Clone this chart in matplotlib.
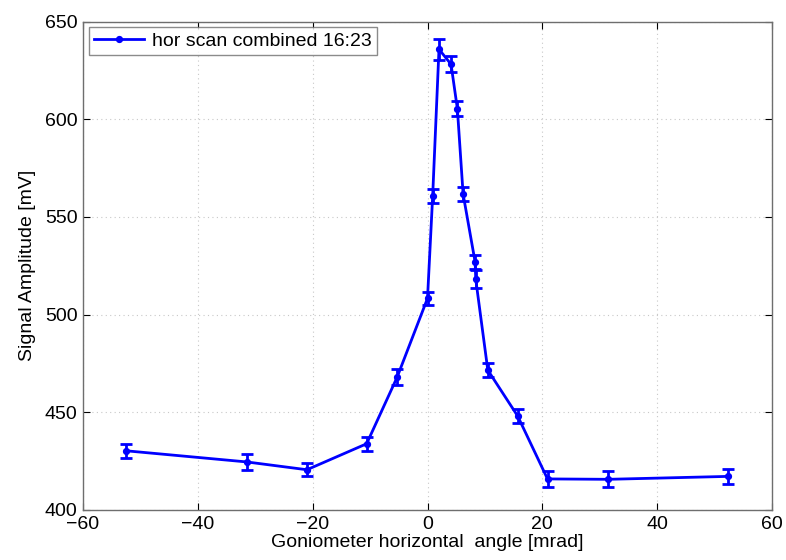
import matplotlib
matplotlib.use("Agg")
import matplotlib.pyplot as plt
from matplotlib.lines import Line2D

plt.rcParams["font.family"] = ["Liberation Sans", "DejaVu Sans"]

# goniometer horizontal scan, combined runs 16:23
angle_mrad = [-52.5, -31.5, -21.0, -10.6, -5.3, 0.0, 0.9, 2.0, 4.1, 5.2,
              6.2, 8.3, 8.4, 10.5, 15.7, 20.9, 31.5, 52.4]
amplitude_mv = [430.3, 424.6, 420.6, 433.9, 467.9, 508.3, 560.7, 635.8, 628.1, 605.4,
                561.7, 526.8, 518.1, 471.6, 448.1, 415.9, 415.7, 417.2]
amplitude_err = [3.6, 4.1, 3.3, 3.5, 4.1, 3.4, 3.6, 5.3, 4.1, 3.7,
                 3.8, 3.6, 4.6, 3.4, 3.4, 4.1, 4.1, 3.8]

x_ticks = [-60, -40, -20, 0, 20, 40, 60]
y_ticks = [400, 450, 500, 550, 600, 650]

fig = plt.figure(figsize=(7.86, 5.6), dpi=100, facecolor="white")
ax = fig.add_axes([0.1056, 0.0893, 0.8766, 0.8723])

ax.errorbar(angle_mrad, amplitude_mv, yerr=amplitude_err, color="#0000ff",
            linewidth=2.0, marker="o", markersize=4.2, capsize=4.5,
            elinewidth=2.0, capthick=2.0)

ax.set_xlim(-60, 60)
ax.set_ylim(400, 650)
ax.set_xticks(x_ticks)
ax.set_yticks(y_ticks)
ax.set_xticklabels([str(t).replace("-", "\u2212") for t in x_ticks])

ax.grid(True, color="#c8c8c8", linestyle=(0, (1, 3)), linewidth=0.8)
ax.tick_params(direction="in", top=True, right=True, length=5,
               labelsize=14, colors="black", width=0.8)
ax.tick_params(axis="y", pad=4)
ax.tick_params(axis="x", pad=4)
for s in ax.spines.values():
    s.set_color("#6e6e6e")
    s.set_linewidth(1.0)

ax.set_xlabel("Goniometer horizontal  angle [mrad]", fontsize=14, labelpad=1)
ax.set_ylabel("Signal Amplitude [mV]", fontsize=14, labelpad=6)

# legend shows only the line with a dot, like the original figure
handle = Line2D([0], [0], color="#0000ff", linewidth=2.0, marker="o", markersize=4.2)
leg = ax.legend([handle], ["hor scan combined 16:23"], loc="upper left",
                fontsize=14, frameon=True, fancybox=False,
                borderaxespad=0.3, handlelength=2.6, borderpad=0.25,
                handletextpad=0.4)
leg.get_frame().set_edgecolor("#6e6e6e")
leg.get_frame().set_linewidth(1.0)

fig.savefig("out.png", dpi=100)
